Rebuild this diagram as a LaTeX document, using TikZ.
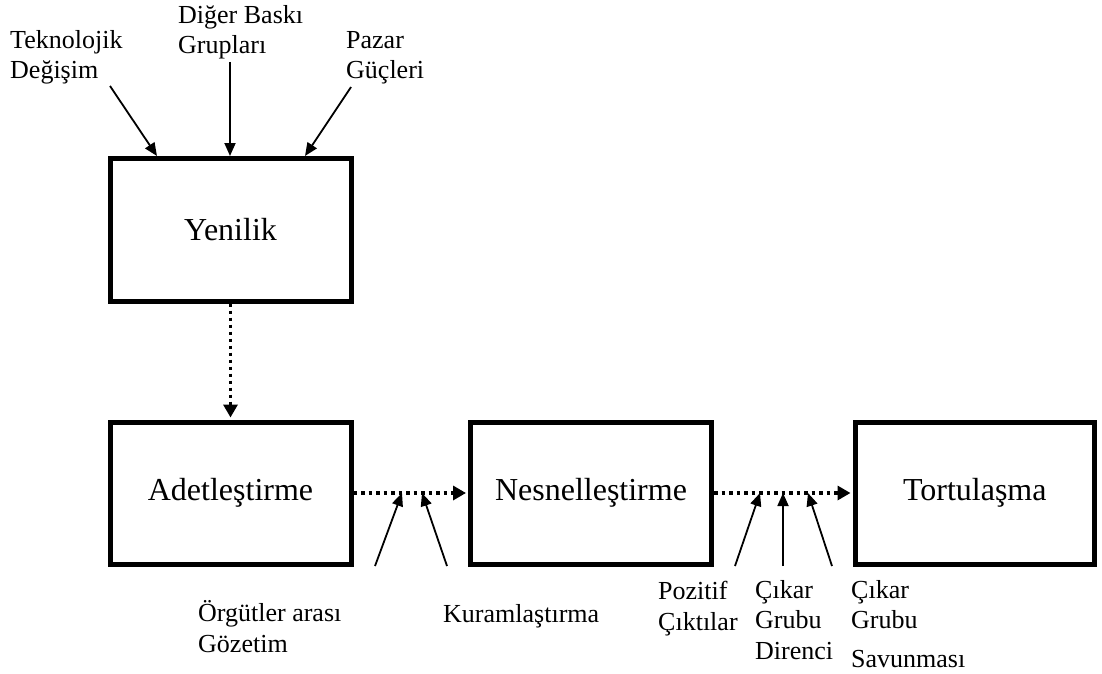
\documentclass[tikz,border=0pt]{standalone}
\usepackage{fontspec}
\setmainfont{Liberation Serif}
\usetikzlibrary{arrows.meta}
\begin{document}
\begin{tikzpicture}[x=1pt,y=-1pt,
  box/.style={draw, line width=5pt, minimum height=143pt, inner sep=0pt,
    font=\fontsize{32}{36}\selectfont},
  lbl/.style={anchor=base west, align=left, inner sep=0pt,
    font=\fontsize{26}{30.5}\selectfont},
  inarrow/.style={line width=1.8pt, -{Triangle[length=13pt,width=11pt]}},
  flow/.style={line width=3.5pt, dash pattern=on 3.5pt off 3.5pt,
    -{Triangle[length=13pt,width=14pt]}, shorten >=2pt},
  hflow/.style={flow, dash pattern=on 3.5pt off 4pt}]
\useasboundingbox (0,0) rectangle (1102,674);

\node[box, minimum width=241pt] (yen) at (230.5,229.5) {Yenilik};
\node[box, minimum width=241pt, minimum height=142pt] (adet) at (230.5,493) {Adetleştirme};
\node[box, minimum width=241pt, minimum height=142pt] (nes) at (591,493) {Nesnelleştirme};
\node[box, minimum width=239.5pt, minimum height=142pt] (tor) at (974.75,493) {Tortulaşma};

% top labels (anchor = baseline of last line)
\node[lbl] (tek) at (10,79) {Teknolojik\\Değişim};
\node[lbl] (dig) at (178,54) {Diğer Baskı\\Grupları};
\node[lbl] (paz) at (346,79) {Pazar\\Güçleri};

\coordinate (tekS) at (110,86);
\coordinate (tekE) at (157,156);
\coordinate (digS) at (230,62);
\coordinate (digE) at (230,156);
\coordinate (pazS) at (351,87);
\coordinate (pazE) at (305,156);
\draw[inarrow] (tekS) -- (tekE);
\draw[inarrow] (digS) -- (digE);
\draw[inarrow] (pazS) -- (pazE);

% flows
\draw[flow] (yen.south) -- (adet.north);
\draw[hflow] (adet.east) -- (nes.west);
\draw[hflow] (nes.east) -- (tor.west);

% bottom left arrows
\coordinate (o1S) at (375,566);
\coordinate (o1E) at (402,493);
\coordinate (o2S) at (447,566);
\coordinate (o2E) at (422,493);
\draw[inarrow] (o1S) -- (o1E);
\draw[inarrow] (o2S) -- (o2E);

\node[lbl] (org) at (198,652) {Örgütler arası\\Gözetim};
\node[lbl] (kur) at (443,622) {Kuramlaştırma};

% bottom right arrows
\coordinate (p1S) at (735,566);
\coordinate (p1E) at (760,493);
\coordinate (p2S) at (783,566);
\coordinate (p2E) at (783,493);
\coordinate (p3S) at (832,566);
\coordinate (p3E) at (808,493);
\draw[inarrow] (p1S) -- (p1E);
\draw[inarrow] (p2S) -- (p2E);
\draw[inarrow] (p3S) -- (p3E);

\node[lbl] (poz) at (658,630) {Pozitif\\Çıktılar};
\node[lbl] (dir) at (755,659) {Çıkar\\Grubu\\Direnci};
\node[lbl] (sav) at (851,667) {Çıkar\\Grubu\\[8pt]Savunması};
\end{tikzpicture}
\end{document}
